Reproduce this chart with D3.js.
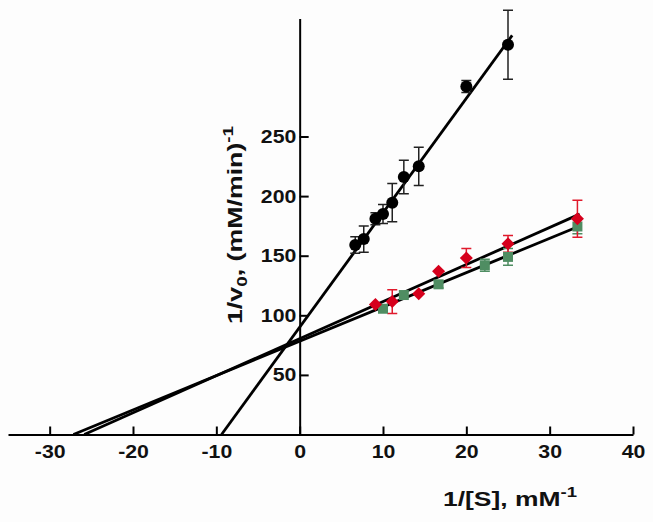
<!DOCTYPE html>
<html>
<head>
<meta charset="utf-8">
<script src="https://cdn.jsdelivr.net/npm/d3@7"></script>
<style>
  html, body { margin: 0; padding: 0; background: #fdfdfd; }
  svg { display: block; font-family: "Liberation Sans", Arial, sans-serif; }
</style>
</head>
<body>
<svg id="chart" width="653" height="522"></svg>
<script>
// ---- data ----
const xTicks = [-30, -20, -10, 0, 10, 20, 30, 40];
const yTicks = [50, 100, 150, 200, 250];

const blackX = [6.67, 7.69, 9.09, 10, 11.11, 12.5, 14.29, 20, 25];
const blackY = [159, 164, 181, 185, 194.5, 216, 225, 292, 327];
const blackErr = [7, 11, 5, 8, 16, 14, 16, 5, 29];

const greenX = [10, 12.5, 16.67, 22.22, 25, 33.33];
const greenY = [105.5, 117, 126, 142, 149, 174.5];
const greenErr = [0, 0, 3, 5, 7, 6];

const redX = [9.09, 11.11, 14.29, 16.67, 20, 25, 33.33];
const redY = [109, 111.5, 118, 137, 148, 160, 181];
const redErr = [0, 10, 0, 0, 8, 7, 15.5];

// fitted lines (black, green, red)
const fitNames = ["black", "green", "red"];
const fitSlopes = [9.6, 2.88, 3.11];
const fitIntercepts = [90, 78.2, 80.4];
const fitXEnd = [25.5, 33.6, 33.6];

// ---- drawing ----
const svg = d3.select("#chart");
const x = d3.scaleLinear().domain([-35, 40]).range([8, 633]);
const y = d3.scaleLinear().domain([0, 349]).range([434.5, 18.5]);

// axes
const gx = svg.append("g").attr("transform", `translate(0,${y(0)})`)
  .call(d3.axisBottom(x).tickValues(xTicks).tickSizeInner(-8).tickSizeOuter(0)
    .tickPadding(10).tickFormat(d => String(d)));
const gy = svg.append("g").attr("transform", `translate(${x(0)},0)`)
  .call(d3.axisLeft(y).tickValues(yTicks).tickSizeInner(-9).tickSizeOuter(0)
    .tickPadding(3).tickFormat(d => String(d)));
[gx, gy].forEach(g => {
  g.select(".domain").attr("stroke", "#000").attr("stroke-width", 2);
  g.selectAll(".tick line").attr("stroke", "#000").attr("stroke-width", 2);
  g.selectAll(".tick text").attr("fill", "#111").attr("font-size", 19)
    .attr("font-weight", "bold").attr("font-family", "'Liberation Sans', Arial, sans-serif")
    .attr("transform", "scale(1.12,1)");
});

// fit lines
const fits = fitNames.map((n, i) => {
  const x0 = -fitIntercepts[i] / fitSlopes[i];
  return { x0, x1: fitXEnd[i], s: fitSlopes[i], b: fitIntercepts[i] };
});
svg.append("g").selectAll("line").data(fits).join("line")
  .attr("x1", d => x(d.x0)).attr("y1", d => y(0))
  .attr("x2", d => x(d.x1)).attr("y2", d => y(d.b + d.s * d.x1))
  .attr("stroke", "#000").attr("stroke-width", 2.8);

// error bars
function errorBars(xs, ys, es, color) {
  const data = xs.map((v, i) => ({ x: v, y: ys[i], e: es[i] })).filter(d => d.e > 0);
  const g = svg.append("g").attr("stroke", color).attr("stroke-width", 1.5).attr("fill", "none");
  g.selectAll("path").data(data).join("path")
    .attr("d", d => {
      const cx = x(d.x), t = y(d.y + d.e), b = y(d.y - d.e), w = 5;
      return `M${cx},${t}V${b}M${cx - w},${t}H${cx + w}M${cx - w},${b}H${cx + w}`;
    });
}
errorBars(blackX, blackY, blackErr, "#222");
errorBars(greenX, greenY, greenErr, "#4f8d62");
errorBars(redX, redY, redErr, "#e01a2c");

// markers
svg.append("g").selectAll("circle").data(blackX.map((v, i) => [v, blackY[i]])).join("circle")
  .attr("cx", d => x(d[0])).attr("cy", d => y(d[1])).attr("r", 6).attr("fill", "#000");

svg.append("g").selectAll("path").data(greenX.map((v, i) => [v, greenY[i]])).join("path")
  .attr("d", d3.symbol(d3.symbolSquare, 100))
  .attr("transform", d => `translate(${x(d[0])},${y(d[1])})`)
  .attr("fill", "#4f8d62");

svg.append("g").selectAll("path").data(redX.map((v, i) => [v, redY[i]])).join("path")
  .attr("d", d3.symbol(d3.symbolSquare, 85))
  .attr("transform", d => `translate(${x(d[0])},${y(d[1])}) rotate(45)`)
  .attr("fill", "#d6001c");

// axis titles
const yt = svg.append("text")
  .attr("transform", `translate(242,225) rotate(-90)`)
  .attr("text-anchor", "middle")
  .attr("font-size", 20).attr("font-weight", "bold").attr("fill", "#111");
yt.append("tspan").text("1/v");
yt.append("tspan").attr("font-size", 14).attr("dy", 5).text("0");
yt.append("tspan").attr("dy", -5).text(", (mM/min)");
yt.append("tspan").attr("font-size", 14).attr("dy", -9).text("-1");
yt.attr("textLength", 198).attr("lengthAdjust", "spacingAndGlyphs");

const xt = svg.append("text")
  .attr("x", 443).attr("y", 506)
  .attr("font-size", 20).attr("font-weight", "bold").attr("fill", "#111");
xt.append("tspan").text("1/[S], mM");
xt.append("tspan").attr("font-size", 14).attr("dy", -9).text("-1");
xt.attr("textLength", 134).attr("lengthAdjust", "spacingAndGlyphs");
</script>
</body>
</html>
